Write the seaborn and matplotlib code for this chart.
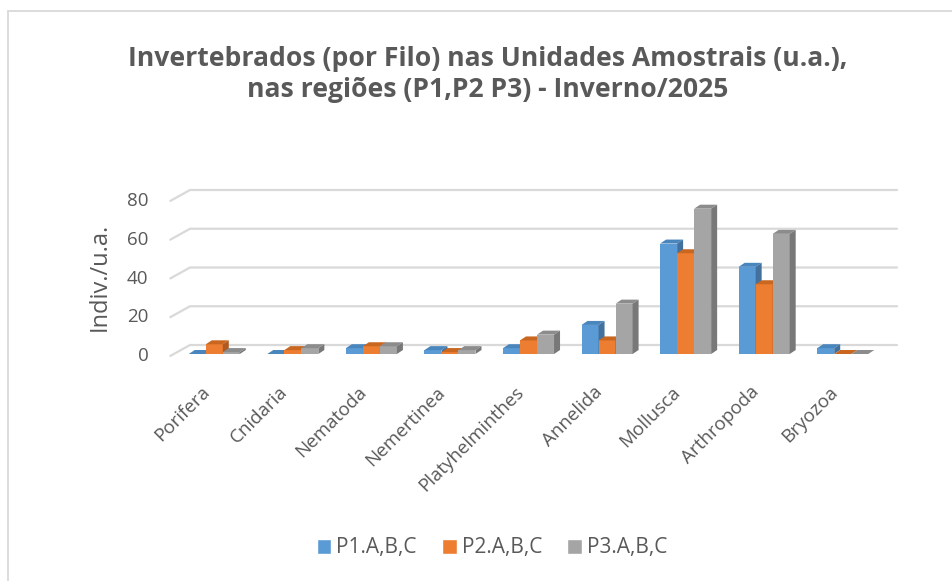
import pandas as pd
import matplotlib.pyplot as plt
import matplotlib.transforms as mtransforms
import seaborn as sns
from matplotlib.patches import Polygon, Rectangle

# values
filos = ["Porifera", "Cnidaria", "Nematoda", "Nemertinea", "Platyhelminthes",
         "Annelida", "Mollusca", "Arthropoda", "Bryozoa"]
p1 = [0, 0, 3, 2, 3, 15, 57, 45, 3]
p2 = [5, 2, 4, 1, 7, 7, 52, 36, 0]
p3 = [1, 3, 4, 2, 10, 26, 75, 62, 0]
series = ["P1.A,B,C", "P2.A,B,C", "P3.A,B,C"]
yticks = [0, 20, 40, 60, 80]

cores = ["#5B9BD5", "#ED7D31", "#A5A5A5"]
lados = ["#41719C", "#AE5A21", "#787878"]
topos = ["#4A86BE", "#C9661F", "#8C8C8C"]
txt = "#595959"

data = pd.DataFrame({
    "Filo": filos * 3,
    "Valor": p1 + p2 + p3,
    "Serie": [s for s in series for _ in filos],
})

sns.set_style("white")
plt.rcParams["font.family"] = ["Open Sans", "DejaVu Sans"]

fig = plt.figure(figsize=(9.52, 5.81), dpi=100)
ax = fig.add_axes([175 / 952, 1 - 354 / 581, 707 / 952, 155 / 581])

sns.barplot(data=data, x="Filo", y="Valor", hue="Serie", palette=cores,
            width=0.65, ax=ax, legend=True, saturation=1)

ax.set_xlim(-0.5, 8.5)
ax.set_ylim(0, 80)

# fake 3D depth like the Excel chart
dx = 6 / 78.56
dy = 4 / 1.9375
for i, cont in enumerate(ax.containers):
    for bar in cont:
        x = bar.get_x()
        w = bar.get_width()
        h = bar.get_height()
        bar.set_zorder(3 + i)
        bar.set_edgecolor("none")
        top = Polygon([(x, h), (x + w, h), (x + w + dx, h + dy), (x + dx, h + dy)],
                      closed=True, fc=topos[i], ec="none", zorder=3 + i, clip_on=False)
        side = Polygon([(x + w, 0), (x + w + dx, dy), (x + w + dx, h + dy), (x + w, h)],
                       closed=True, fc=lados[i], ec="none", zorder=3 + i, clip_on=False)
        ax.add_patch(top)
        ax.add_patch(side)

# back wall gridlines
gx = 15 / 78.56
gy = 9 / 1.9375
for v in yticks:
    ax.plot([-0.5 - 0.06, -0.5 + gx, 8.5 + gx], [v - 1, v + gy, v + gy],
            color="#D9D9D9", lw=1.6, zorder=1, clip_on=False)

ax.set_yticks(yticks)
ax.tick_params(axis="y", length=0, pad=19, labelsize=13.5, labelcolor=txt)
ax.tick_params(axis="x", length=0, labelbottom=False)

# category labels, rotated like Excel
trans = mtransforms.offset_copy(ax.get_xaxis_transform(), fig=fig, x=-14, y=-29, units="dots")
for i, nome in enumerate(filos):
    ax.text(i, 0, nome, transform=trans, rotation=45, rotation_mode="anchor",
            ha="right", va="top", fontsize=13.5, color=txt)

ax.set_xlabel("")
ax.set_ylabel("Indiv./u.a.", fontsize=17, color=txt, labelpad=11)
sns.despine(ax=ax, left=True, bottom=True)
ax.grid(False)

handles, labels = ax.get_legend_handles_labels()
ax.legend_.remove()
fig.legend(handles, labels, loc="center", bbox_to_anchor=(492 / 952, 1 - 548 / 581),
           ncol=3, frameon=False, fontsize=15, labelcolor=txt,
           handlelength=0.7, handleheight=0.7, handletextpad=0.25, columnspacing=1.2)

fig.text(488 / 952, 1 - 74 / 581,
         "Invertebrados (por Filo) nas Unidades Amostrais (u.a.),\nnas regiões (P1,P2 P3) - Inverno/2025",
         ha="center", va="center", fontsize=19.1, fontweight="bold", color=txt,
         linespacing=1.25)

fig.add_artist(Rectangle((8 / 952, -0.1), 1.1, 0.1 + 570 / 581, transform=fig.transFigure,
                         fill=False, ec="#D9D9D9", lw=1.3))

fig.savefig("out.png", dpi=100)
